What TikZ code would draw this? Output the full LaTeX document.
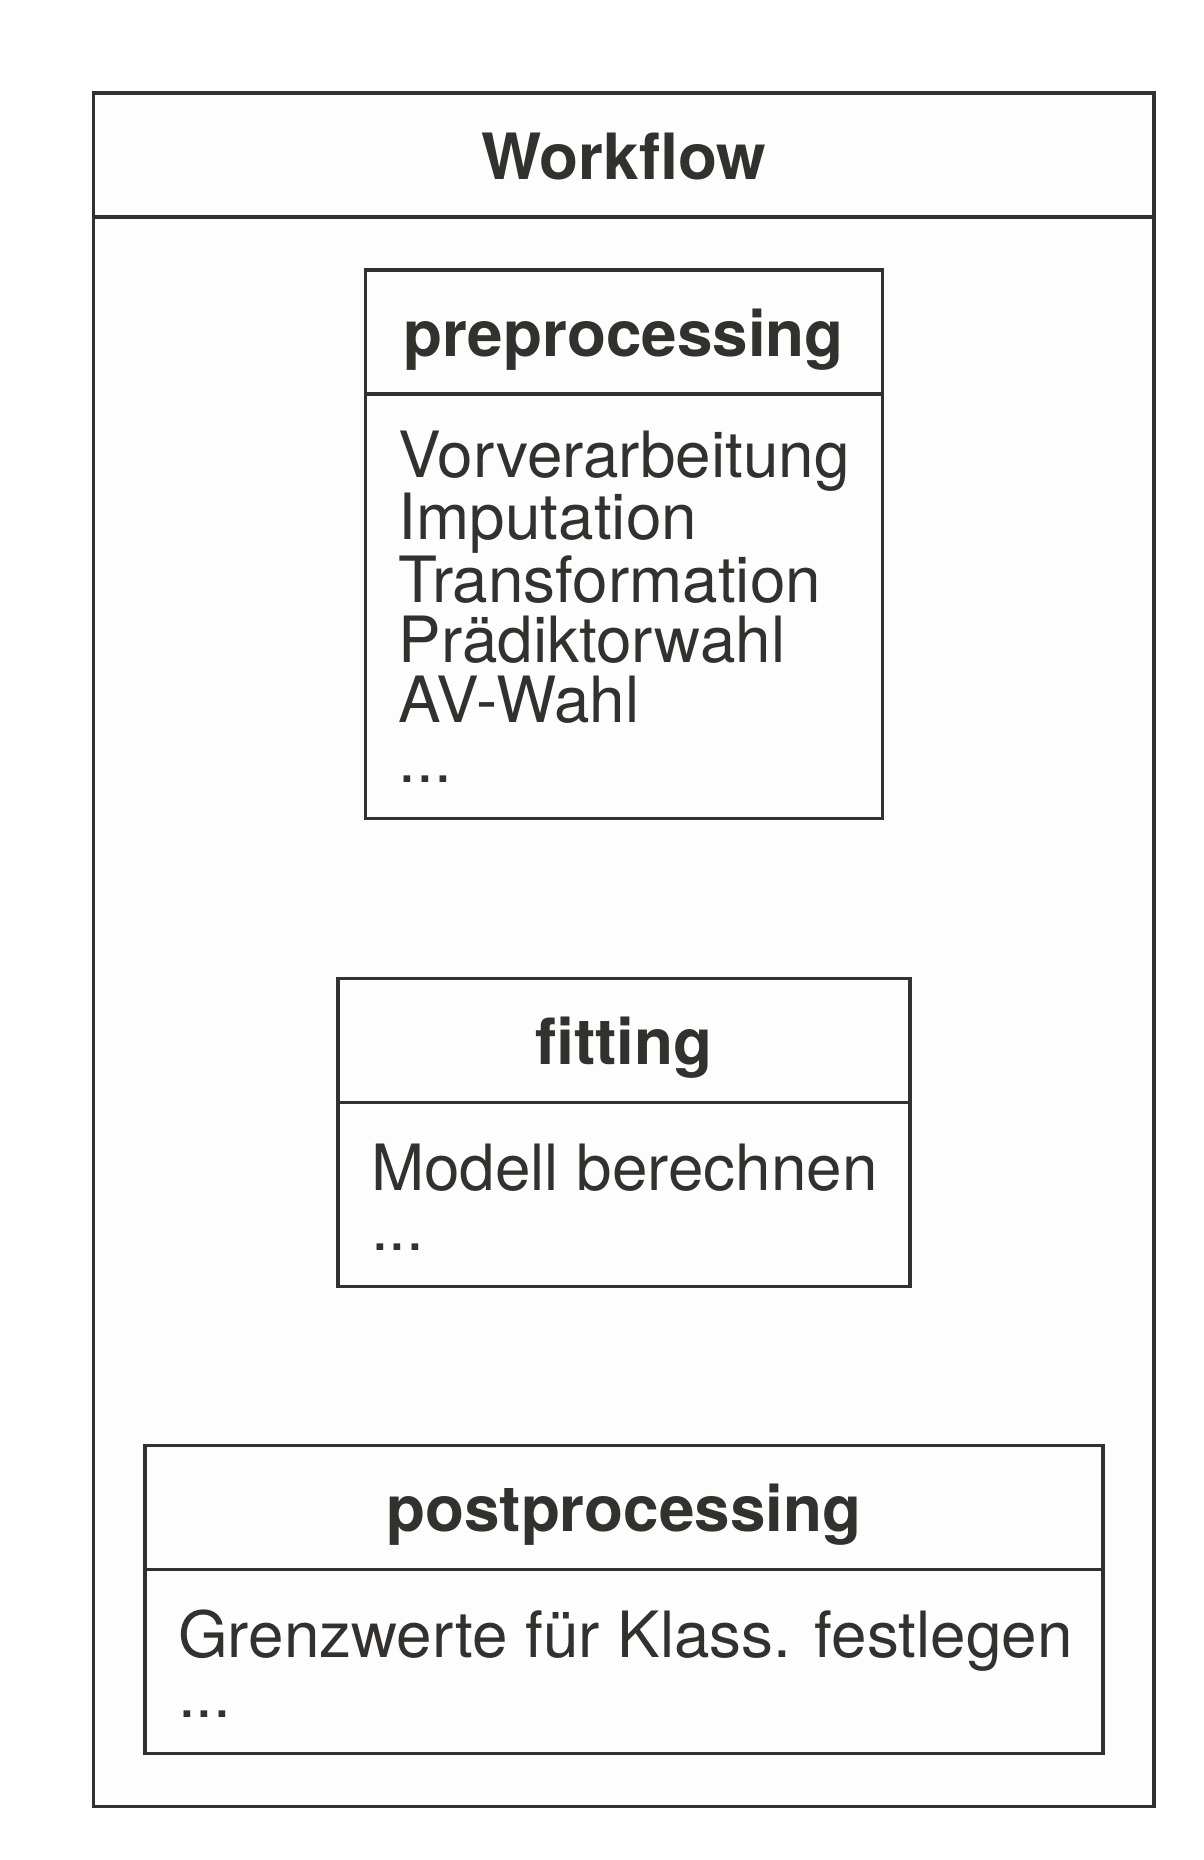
\documentclass[tikz,border=0pt]{standalone}
\usepackage{fontspec}
\setmainfont{TeX Gyre Heros}
\usepackage{xcolor}
\definecolor{wfink}{HTML}{33312E}
\definecolor{wfpaper}{HTML}{FDFDFD}
\usepackage{tikz}
\usetikzlibrary{positioning}
\tikzset{
  compart/.style={draw=wfink, line width=1.8pt, fill=wfpaper, inner sep=0pt, outer sep=0pt, minimum width=#1},
  headpart/.style={compart=#1, minimum height=62pt},
  titletext/.style={font=\bfseries\fontsize{31.9pt}{30pt}\selectfont, text=wfink, anchor=base, inner sep=0pt},
  itemtext/.style={font=\fontsize{31.9pt}{30pt}\selectfont, text=wfink, align=left, anchor=base west, inner sep=0pt}
}

\begin{document}
\begin{tikzpicture}
  % Workflow frame with its three steps
  \fill[white] (0,0) rectangle (602pt,-930pt);
  \useasboundingbox (0,0) rectangle (602pt,-930pt);
  \node[headpart=530.35pt, anchor=north west] (wfhead) at (46.75pt,-46.5pt) {};
  \node[compart=530.35pt, minimum height=794.8pt, below=0pt of wfhead] (wfbody) {};
  \node[titletext] (wftitle) at ([yshift=-12pt]wfhead.center) {Workflow};

  \node[headpart=258.5pt, below=26.5pt of wfhead] (prehead) {};
  \node[compart=258.5pt, minimum height=212.15pt, below=0pt of prehead] (prebody) {};
  \node[titletext] (pretitle) at ([yshift=-12pt]prehead.center) {preprocessing};
  % base of a multi-line node is its last line
  \node[itemtext] (preitems) at ([shift={(16.5pt,18pt)}]prebody.south west)
    {Vorverarbeitung\\Imputation\\Transformation\\Prädiktorwahl\\AV-Wahl\\...};

  \node[headpart=286pt, below=80pt of prebody] (fithead) {};
  \node[compart=286pt, minimum height=92pt, below=0pt of fithead] (fitbody) {};
  \node[titletext] (fittitle) at ([yshift=-12pt]fithead.center) {fitting};
  \node[itemtext] (fititems) at ([shift={(16.5pt,18pt)}]fitbody.south west)
    {Modell berechnen\\...};

  \node[headpart=479pt, below=79.5pt of fitbody] (posthead) {};
  \node[compart=479pt, minimum height=92pt, below=0pt of posthead] (postbody) {};
  \node[titletext] (posttitle) at ([yshift=-12pt]posthead.center) {postprocessing};
  \node[itemtext] (postitems) at ([shift={(16.5pt,18pt)}]postbody.south west)
    {Grenzwerte für Klass. festlegen\\...};
\end{tikzpicture}
\end{document}
